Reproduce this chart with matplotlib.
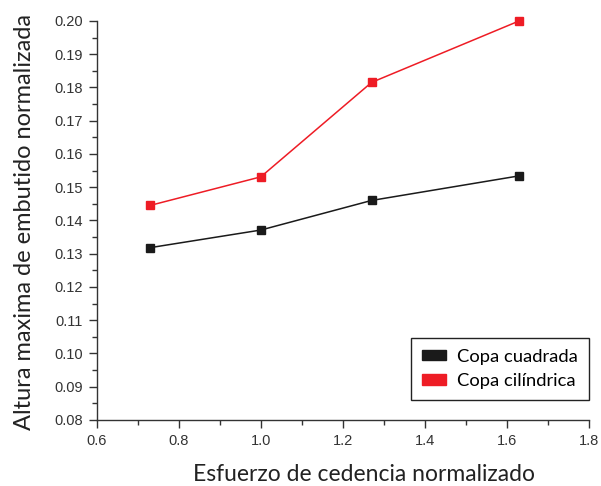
import matplotlib
matplotlib.use("Agg")
import matplotlib.pyplot as plt
from matplotlib.patches import Patch
from matplotlib.ticker import MultipleLocator

# ── Data ──────────────────────────────────────────────────────
esfuerzo = [0.73, 1.0, 1.27, 1.63]
altura_cuadrada = [0.1318, 0.1371, 0.1460, 0.1534]
altura_cilindrica = [0.1445, 0.1531, 0.1815, 0.2000]
series_labels = ["Copa cuadrada", "Copa cilíndrica"]
# ──────────────────────────────────────────────────────────────

BLACK = "#1a1a1a"
RED = "#ee1c25"
LABEL_FONT = "Lato"

fig = plt.figure(figsize=(6.01, 4.86), dpi=100)
ax = fig.add_axes([0.161, 0.136, 0.819, 0.821])

ax.plot(esfuerzo, altura_cuadrada, "-", color=BLACK, lw=1.1,
        marker="s", ms=5.5, mec=BLACK, mfc=BLACK, clip_on=False)
ax.plot(esfuerzo, altura_cilindrica, "-", color=RED, lw=1.1,
        marker="s", ms=5.5, mec=RED, mfc=RED, clip_on=False)

ax.set_xlim(0.6, 1.8)
ax.set_ylim(0.08, 0.20)
ax.xaxis.set_major_locator(MultipleLocator(0.2))
ax.xaxis.set_minor_locator(MultipleLocator(0.1))
ax.yaxis.set_major_locator(MultipleLocator(0.01))
ax.yaxis.set_minor_locator(MultipleLocator(0.005))
ax.xaxis.set_major_formatter(plt.FuncFormatter(lambda v, p: f"{v:.1f}"))
ax.yaxis.set_major_formatter(plt.FuncFormatter(lambda v, p: f"{v:.2f}"))

for side in ("top", "right"):
    ax.spines[side].set_visible(False)
for side in ("left", "bottom"):
    ax.spines[side].set_color("#333333")
    ax.spines[side].set_linewidth(1.0)

ax.tick_params(which="major", direction="out", length=6, width=1.0,
               color="#333333", labelsize=10.5, labelcolor="#333333", pad=4)
ax.tick_params(which="minor", direction="out", length=3.5, width=1.0,
               color="#333333")
for lab in ax.get_xticklabels() + ax.get_yticklabels():
    lab.set_family("Liberation Sans")

ax.set_xlabel("Esfuerzo de cedencia normalizado", fontsize=16.5,
              family=LABEL_FONT, color="#222222")
ax.set_ylabel("Altura maxima de embutido normalizada", fontsize=17,
              family=LABEL_FONT, color="#222222")
# the original labels sit a little off the axes centre
ax.xaxis.set_label_coords(0.543, -0.11)
ax.yaxis.set_label_coords(-0.126, 0.495)

handles = [Patch(facecolor=BLACK, edgecolor=BLACK),
           Patch(facecolor=RED, edgecolor=RED)]
leg = ax.legend(handles, series_labels, loc="lower right",
                bbox_to_anchor=(1.0, 0.05), borderaxespad=0,
                fancybox=False, framealpha=1, edgecolor="#222222",
                prop={"family": LABEL_FONT, "size": 13.2},
                handlelength=1.3, handleheight=0.5, handletextpad=0.6,
                borderpad=0.6, labelspacing=0.45)
leg.get_frame().set_linewidth(1.0)

fig.savefig("out.png", dpi=100)
